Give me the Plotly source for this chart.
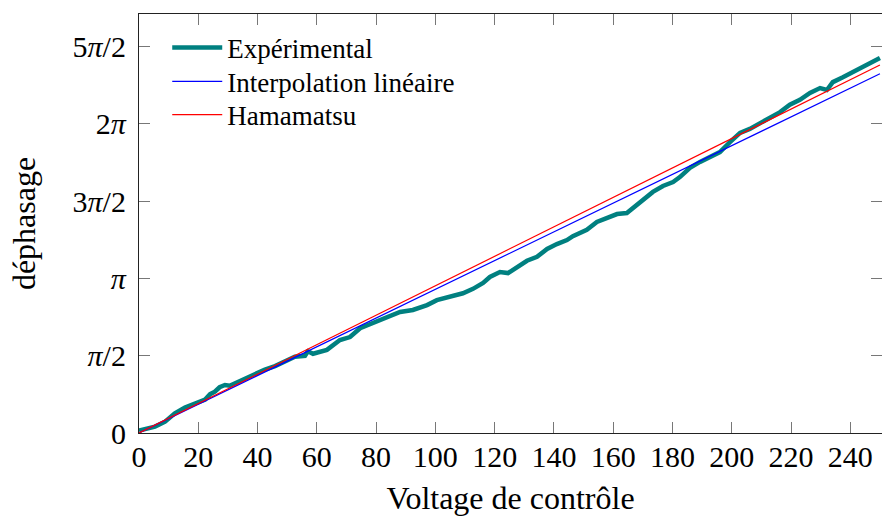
import math
import plotly.graph_objects as go

# Measured phase shift versus control voltage
volt_exp = [0, 2.5, 5.4, 8.8, 10.5, 12.1, 15.5, 18.9, 22.3, 24.0, 25.6, 27.2,
            29.0, 30.6, 32.4, 35.8, 39.1, 42.5, 45.9, 49.3, 52.6, 56.0, 57.0,
            58.7, 63.4, 67.8, 71.2, 74.6, 78.9, 83.7, 88.1, 92.4, 97.2, 100.5,
            104.9, 109.3, 112.7, 116.1, 118.4, 121.8, 124.5, 127.5, 130.9,
            134.3, 137.7, 141.0, 144.4, 146.4, 151.1, 154.5, 157.9, 161.3,
            164.6, 168.0, 171.4, 173.4, 176.8, 180.2, 182.5, 185.9, 189.3,
            192.6, 196.0, 199.4, 202.8, 206.1, 209.5, 212.9, 216.3, 219.6,
            223.0, 226.4, 229.8, 232.1, 234.1, 237.5, 240.9, 244.3, 247.6,
            250.0]
phase_exp = [0.05, 0.08, 0.13, 0.23, 0.33, 0.40, 0.52, 0.59, 0.68, 0.79, 0.84,
             0.93, 0.975, 0.96, 1.01, 1.11, 1.18, 1.29, 1.36, 1.45, 1.55, 1.57,
             1.66, 1.61, 1.69, 1.89, 1.95, 2.13, 2.24, 2.34, 2.46, 2.50, 2.60,
             2.70, 2.76, 2.84, 2.93, 3.05, 3.17, 3.27, 3.25, 3.37, 3.50, 3.58,
             3.74, 3.84, 3.92, 4.00, 4.13, 4.29, 4.37, 4.45, 4.47, 4.63, 4.78,
             4.90, 5.02, 5.10, 5.20, 5.39, 5.51, 5.61, 5.71, 5.91, 6.10, 6.18,
             6.30, 6.42, 6.52, 6.67, 6.77, 6.91, 7.01, 6.97, 7.13, 7.23, 7.34,
             7.44, 7.54, 7.62]

# Linear fit and manufacturer (Hamamatsu) response, given by their end points
volt_lin = [0, 250]
phase_lin = [0, 7.30]
volt_ham = [0, 250]
phase_ham = [0, 7.48]

x_ticks = list(range(0, 241, 20))
y_tickvals = [0, math.pi / 2, math.pi, 3 * math.pi / 2, 2 * math.pi, 5 * math.pi / 2]
y_ticktext = ["0", "<i>π</i>/2", "<i>π</i>", "3<i>π</i>/2", "2<i>π</i>", "5<i>π</i>/2"]

fig = go.Figure()
fig.add_trace(go.Scatter(x=volt_exp, y=phase_exp, mode="lines", name="Expérimental",
                         line=dict(color="#008080", width=4.5), legend="legend"))
fig.add_trace(go.Scatter(x=volt_lin, y=phase_lin, mode="lines", name="Interpolation linéaire",
                         line=dict(color="#0000ff", width=1.2), legend="legend2"))
fig.add_trace(go.Scatter(x=volt_ham, y=phase_ham, mode="lines", name="Hamamatsu",
                         line=dict(color="#ff0000", width=1.2), legend="legend3"))

axis_common = dict(showline=True, linecolor="#222", linewidth=1.2, mirror="ticks",
                   ticks="inside", ticklen=11, tickcolor="#777", tickwidth=1,
                   showgrid=False, zeroline=False)

legend_style = dict(x=0.038, xanchor="left", yanchor="middle",
                    bgcolor="rgba(255,255,255,0)", borderwidth=0,
                    font=dict(family="Liberation Serif", size=27),
                    itemwidth=50)

title_font = dict(family="Liberation Serif", size=32, color="black")

fig.update_layout(
    width=882, height=516,
    margin=dict(l=139, r=0, t=14, b=83),
    paper_bgcolor="white", plot_bgcolor="white",
    font=dict(family="Liberation Serif", size=30, color="black"),
    showlegend=True,
    legend=dict(y=0.919, **legend_style),
    legend2=dict(y=0.838, **legend_style),
    legend3=dict(y=0.759, **legend_style),
    xaxis=dict(range=[0, 250.7], tickvals=x_ticks, ticklabelstandoff=-3,
               title=dict(text="Voltage de contrôle", standoff=18, font=title_font),
               **axis_common),
    yaxis=dict(range=[0, 8.515], tickvals=y_tickvals, ticktext=y_ticktext,
               ticklabelstandoff=6,
               title=dict(text="déphasage", standoff=27, font=title_font),
               **axis_common),
)

fig.write_html("out.html")
